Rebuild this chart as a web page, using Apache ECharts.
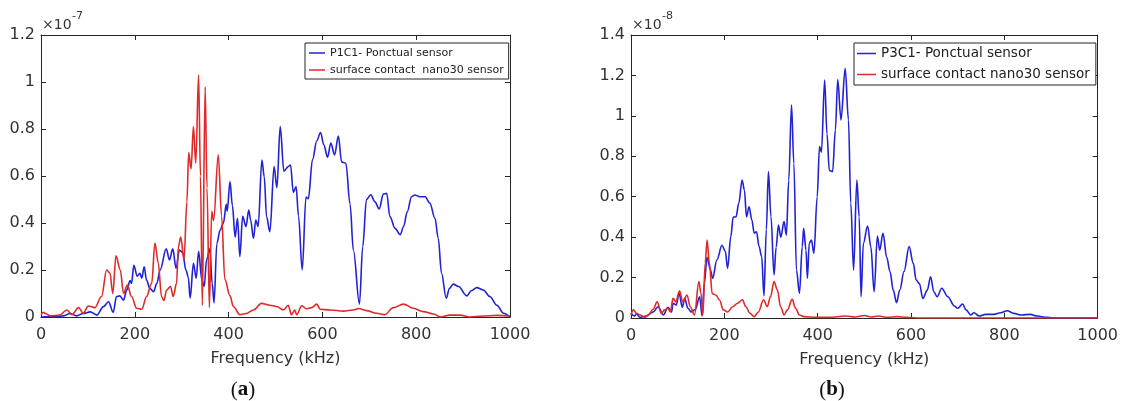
<!doctype html>
<html>
    <head>
        <meta charset="utf-8">
        <title>Spectra - ECHARTS</title>
        <style>
            html, body { margin: 0; padding: 0; background: #fff; }
            #main { width: 1121px; height: 401px; }
        </style>
    </head>
    <body>
        <div id="main"></div>
        <script src="https://cdn.jsdelivr.net/npm/echarts@6/dist/echarts.min.js"></script>
        <script>

            // (a) amplitudes in units of 1e-7, frequency in kHz
            var p1c1 = [[0,0],[20,0.002],[40,0.003],[48,0.005],[62,0.015],[76,0.005],[90,0.015],[105,0.022],[119,0.008],[133,0.044],[144,0.065],[154,0.02],[161,0.087],[168,0.09],[176,0.072],[183,0.115],[190,0.155],[193,0.143],[198,0.22],[205,0.174],[211,0.186],[215,0.165],[220,0.214],[225,0.157],[232,0.122],[240,0.108],[247,0.143],[254,0.2],[267,0.29],[274,0.243],[281,0.29],[288,0.207],[295,0.285],[302,0.274],[309,0.2],[314,0.17],[318,0.08],[325,0.228],[331,0.165],[336,0.28],[343,0.157],[348,0.13],[353,0.243],[360,0.29],[365,0.143],[369,0.06],[375,0.314],[382,0.37],[389,0.4],[395,0.48],[397,0.45],[403,0.576],[408,0.475],[414,0.34],[419,0.42],[424,0.257],[430,0.428],[437,0.385],[443,0.455],[447,0.413],[453,0.335],[458,0.413],[463,0.385],[471,0.668],[476,0.597],[481,0.426],[488,0.363],[497,0.64],[503,0.55],[510,0.81],[518,0.62],[527,0.64],[532,0.647],[538,0.53],[544,0.555],[549,0.43],[557,0.2],[565,0.51],[570,0.503],[579,0.67],[588,0.75],[596,0.785],[603,0.733],[611,0.68],[618,0.74],[626,0.69],[634,0.77],[641,0.66],[650,0.654],[659,0.48],[666,0.285],[679,0.055],[686,0.3],[694,0.5],[703,0.52],[712,0.49],[721,0.46],[730,0.523],[737,0.526],[744,0.427],[755,0.377],[766,0.35],[773,0.385],[781,0.448],[790,0.512],[797,0.519],[808,0.512],[819,0.512],[829,0.485],[840,0.42],[847,0.335],[854,0.186],[864,0.08],[871,0.122],[879,0.14],[890,0.13],[908,0.09],[918,0.113],[929,0.125],[943,0.115],[957,0.087],[972,0.05],[986,0.016],[1000,0]];

            var nano30a = [[0,0.01],[5,0.02],[9,0.015],[20,0.005],[40,0.008],[55,0.03],[66,0.01],[80,0.04],[90,0.016],[101,0.047],[115,0.04],[129,0.087],[140,0.2],[147,0.187],[153,0.1],[160,0.26],[169,0.2],[176,0.1],[184,0.136],[193,0.087],[204,0.037],[215,0.033],[225,0.087],[236,0.143],[243,0.315],[250,0.23],[257,0.087],[262,0.07],[268,0.115],[276,0.13],[282,0.087],[289,0.143],[293,0.3],[298,0.34],[305,0.243],[311,0.49],[315,0.7],[320,0.63],[325,0.81],[330,0.655],[336,1.03],[340,0.6],[344,0.05],[350,0.98],[354,0.55],[359,0.04],[364,0.45],[368,0.41],[378,0.69],[385,0.43],[392,0.16],[403,0.09],[410,0.045],[424,0.01],[438,0.015],[453,0.03],[470,0.058],[488,0.05],[502,0.045],[517,0.03],[527,0.05],[534,0.01],[541,0.03],[545,0.01],[556,0.048],[566,0.035],[577,0.04],[588,0.055],[595,0.033],[616,0.03],[645,0.025],[666,0.03],[677,0.036],[694,0.027],[716,0.016],[733,0.01],[751,0.04],[773,0.055],[794,0.037],[815,0.023],[837,0.013],[851,0],[872,0.008],[893,0.008],[915,0],[943,0.004],[972,0.007],[1000,0.004]];

            // (b) amplitudes in units of 1e-8
            var p3c1 = [[0,0.023],[7,0.01],[12,0.02],[19,0.003],[33,0.01],[47.5,0.03],[58,0.056],[69,0.015],[79.5,0.053],[87,0.03],[90,0.073],[97,0.064],[103,0.122],[110,0.053],[115,0.097],[122,0.048],[129,0.03],[138,0.043],[147,0.105],[152.5,0.01],[157,0.17],[163,0.3],[170,0.24],[175,0.196],[184,0.287],[195,0.36],[202,0.33],[207,0.246],[214,0.404],[219,0.5],[225,0.5],[231,0.567],[238,0.683],[243,0.633],[247.5,0.5],[253,0.55],[259,0.485],[264,0.42],[269,0.427],[274.5,0.353],[280,0.304],[285,0.11],[290,0.437],[294.5,0.724],[300,0.5],[306.5,0.213],[311,0.35],[316,0.46],[321,0.4],[328,0.477],[333,0.41],[338,0.68],[344,1.054],[349,0.765],[354.6,0.237],[361,0.122],[367,0.353],[370,0.444],[375,0.336],[378,0.196],[382,0.37],[386.6,0.386],[392,0.32],[399,0.6],[404,0.848],[408,0.82],[415,1.177],[420,0.91],[425,0.73],[432,0.724],[438,0.93],[443,1.18],[450,0.98],[459,1.235],[466,0.98],[471,0.567],[477,0.237],[484,0.683],[489,0.5],[493,0.106],[498,0.37],[507,0.455],[514,0.353],[521,0.13],[528,0.405],[533,0.336],[540,0.419],[548,0.3],[555,0.23],[562,0.138],[569,0.076],[576,0.138],[585,0.23],[596,0.353],[605,0.27],[611,0.188],[618,0.17],[625.5,0.097],[635,0.138],[642,0.204],[649,0.13],[656,0.105],[666,0.147],[679,0.105],[693,0.059],[700,0.048],[710.6,0.069],[718,0.04],[728,0.015],[735,0.026],[746,0.01],[760,0.018],[778,0.018],[792,0.026],[806,0.036],[820,0.023],[837,0.015],[856,0.018],[870,0.01],[891.5,0.003],[913,0],[1000,0]];

            var nano30b = [[0,0.015],[5,0.04],[12,0.023],[19,0.015],[30,0.003],[37,0.015],[47.5,0.043],[56,0.08],[65,0.023],[72,0.04],[79.5,0.048],[84.5,0.03],[90,0.097],[96,0.08],[104,0.135],[111,0.08],[120,0.114],[127,0.056],[136,0.015],[145.5,0.18],[150,0.122],[154,0.015],[159,0.272],[163,0.386],[168,0.272],[174,0.12],[182,0.114],[189.5,0.089],[198,0.04],[207,0.03],[218,0.056],[228.5,0.073],[239,0.09],[246,0.056],[255,0.023],[264,0.007],[273,0.03],[284,0.09],[292,0.056],[299,0.106],[306.5,0.18],[313.6,0.139],[320.6,0.056],[328,0.015],[335,0.04],[345.5,0.092],[352.6,0.048],[361,0.015],[370,0.007],[397,0.003],[425,0.003],[460,0.01],[480,0.005],[500,0.012],[515,0.005],[530,0.01],[550,0.003],[570,0.007],[590,0.003],[620,0],[700,0],[800,0],[1000,0]];

            var namesA = ['P1C1- Ponctual sensor', 'surface contact  nano30 sensor'];
            var namesB = ['P3C1- Ponctual sensor', 'surface contact nano30 sensor'];

            var BLUE = '#2222d4';
            var RED = '#e02a2a';
            var AXC = '#262626';
            var FONT = '"DejaVu Sans", sans-serif';
            var SERIF = '"Liberation Serif", serif';

            function plain(v) { return String(Math.round(v * 100) / 100); }

            function xAx(grid, pos) {
                return {
                    gridIndex: grid, type: 'value', position: pos,
                    min: 0, max: 1000, interval: 200,
                    axisLine: { show: true, onZero: false, lineStyle: { color: AXC, width: 1 } },
                    axisTick: { show: true, inside: true, length: 5, lineStyle: { color: AXC } },
                    axisLabel: { show: pos == 'bottom', margin: 10, fontSize: 16, color: '#333', fontFamily: FONT, formatter: plain },
                    splitLine: { show: false },
                    name: pos == 'bottom' ? 'Frequency (kHz)' : '',
                    nameLocation: 'middle', nameGap: 34,
                    nameTextStyle: { fontSize: 16, color: '#333', fontFamily: FONT }
                };
            }
            function yAx(grid, pos, max) {
                return {
                    gridIndex: grid, type: 'value', position: pos,
                    min: 0, max: max, interval: 0.2,
                    axisLine: { show: true, onZero: false, lineStyle: { color: AXC, width: 1 } },
                    axisTick: { show: true, inside: true, length: 5, lineStyle: { color: AXC } },
                    axisLabel: { show: pos == 'left', margin: 6, fontSize: 16, color: '#333', fontFamily: FONT, formatter: plain },
                    splitLine: { show: false }
                };
            }
            function line(name, data, color, xi) {
                return {
                    name: name, type: 'line', data: data,
                    xAxisIndex: xi, yAxisIndex: xi,
                    showSymbol: false, smooth: 0.35, smoothMonotone: 'x',
                    lineStyle: { color: color, width: 1.6 },
                    itemStyle: { color: color },
                    silent: true, animation: false
                };
            }
            function legend(names, left, fs, lh, gap, pad, iw) {
                return {
                    data: names, orient: 'vertical', left: left, top: 43,
                    padding: pad, itemGap: gap, itemWidth: iw, itemHeight: 1.5, icon: 'rect',
                    borderColor: AXC, borderWidth: 1, backgroundColor: '#fff',
                    selectedMode: false,
                    textStyle: { fontFamily: FONT, fontSize: fs, lineHeight: lh, color: '#222' }
                };
            }
            function caption(letter, x) {
                return { type: 'text', x: x, y: 390, style: {
                    text: '{p|(}{b|' + letter + '}{p|)}', align: 'center', verticalAlign: 'middle',
                    rich: { p: { fontSize: 21, fontFamily: SERIF, fill: '#111' },
                            b: { fontSize: 21, fontWeight: 'bold', fontFamily: SERIF, fill: '#111' } } } };
            }

            var myChart = echarts.init(document.getElementById('main'), null, { renderer: 'canvas' });

            myChart.setOption({
                animation: false,
                grid: [
                    { left: 41, top: 35, width: 469, height: 282 },
                    { left: 631, top: 35, width: 470, height: 283 }
                ],
                xAxis: [xAx(0, 'bottom'), xAx(0, 'top'), xAx(1, 'bottom'), xAx(1, 'top')],
                yAxis: [yAx(0, 'left', 1.2), yAx(0, 'right', 1.2), yAx(1, 'left', 1.4), yAx(1, 'right', 1.4)],
                legend: [
                    legend(namesA, 305, 11, 14, 3, [3, 5, 2, 4], 16),
                    legend(namesB, 854, 13.5, 17, 4, [2, 6, 2, 3], 19)
                ],
                series: [
                    line(namesA[0], p1c1, BLUE, 0),
                    line(namesA[1], nano30a, RED, 0),
                    line(namesB[0], p3c1, BLUE, 2),
                    line(namesB[1], nano30b, RED, 2)
                ],
                graphic: [
                    { type: 'text', left: 42, top: 18, style: { text: '×10', fontSize: 14, fontFamily: FONT, fill: '#333' } },
                    { type: 'text', left: 72, top: 11, style: { text: '-7', fontSize: 11, fontFamily: FONT, fill: '#333' } },
                    { type: 'text', left: 632, top: 18, style: { text: '×10', fontSize: 14, fontFamily: FONT, fill: '#333' } },
                    { type: 'text', left: 662, top: 11, style: { text: '-8', fontSize: 11, fontFamily: FONT, fill: '#333' } },
                    caption('a', 243),
                    caption('b', 832)
                ]
            });

        </script>
    </body>
</html>
